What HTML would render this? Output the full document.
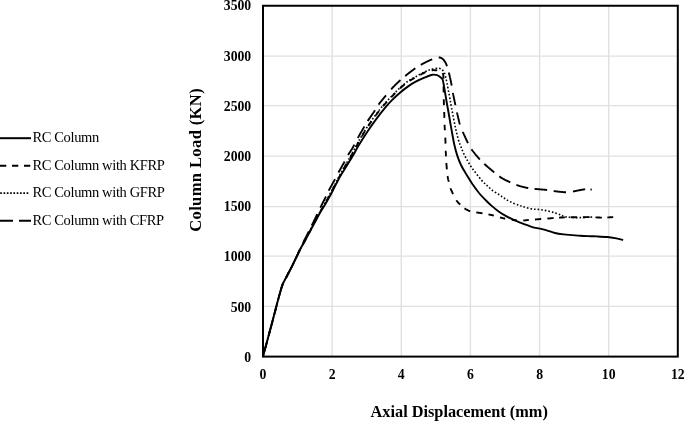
<!DOCTYPE html>
<html><head><meta charset="utf-8"><style>
html,body{margin:0;padding:0;background:#fff;}
body{width:685px;height:421px;overflow:hidden;}
svg{display:block;will-change:transform;}
text{font-family:"Liberation Serif",serif;}
</style></head><body>
<svg width="685" height="421" viewBox="0 0 685 421">
<rect width="685" height="421" fill="#fff"/>
<g stroke="#e0e0e0" stroke-width="1.4"><line x1="332.14" y1="6" x2="332.14" y2="356" /><line x1="401.28" y1="6" x2="401.28" y2="356" /><line x1="470.42" y1="6" x2="470.42" y2="356" /><line x1="539.56" y1="6" x2="539.56" y2="356" /><line x1="608.70" y1="6" x2="608.70" y2="356" /><line x1="263" y1="306.4" x2="677" y2="306.4" /><line x1="263" y1="256.15" x2="677" y2="256.15" /><line x1="263" y1="206.65" x2="677" y2="206.65" /><line x1="263" y1="156.1" x2="677" y2="156.1" /><line x1="263" y1="105.65" x2="677" y2="105.65" /><line x1="263" y1="56.1" x2="677" y2="56.1" /></g>
<g fill="none" stroke="#000" stroke-width="1.9" stroke-linejoin="round">
<path d="M264.02,352.79 L264.08,352.56 L264.15,352.32 L264.21,352.08 L264.28,351.84 L264.34,351.59 L264.41,351.34 L264.48,351.09 L264.55,350.83 L264.62,350.57 L264.69,350.30 L264.76,350.04 L264.83,349.77 L264.91,349.50 L264.98,349.22 L265.05,348.94 L265.13,348.66 L265.21,348.38 L265.28,348.09 L265.36,347.80 L265.44,347.51 L265.52,347.22 L265.60,346.92 L265.68,346.63 L265.76,346.33 L265.84,346.02 L265.92,345.72 L266.00,345.41 L266.08,345.10 L266.17,344.79 L266.25,344.48 L266.34,344.17 L266.42,343.85 L266.51,343.53 L266.59,343.21 L266.68,342.89 L266.76,342.57 L266.85,342.25 L266.94,341.92 L267.02,341.59 L267.11,341.27 L267.20,340.94 L267.29,340.61 M269.10,333.87 L269.19,333.54 L269.28,333.20 L269.37,332.86 L269.46,332.52 L269.55,332.18 L269.64,331.85 L269.73,331.51 L269.82,331.18 L269.91,330.84 L270.00,330.51 L270.09,330.17 L270.18,329.84 L270.27,329.51 L270.35,329.18 L270.44,328.85 L270.53,328.52 L270.62,328.20 L270.71,327.87 L270.79,327.55 L270.88,327.22 L270.97,326.90 L271.05,326.58 L271.14,326.26 L271.22,325.95 L271.31,325.63 L271.39,325.32 L271.47,325.01 L271.56,324.70 L271.64,324.39 L271.72,324.09 L271.80,323.78 L271.88,323.48 L271.96,323.18 L272.04,322.89 L272.12,322.59 L272.20,322.30 L272.28,322.01 L272.36,321.72 M274.14,314.94 L274.22,314.62 L274.31,314.30 L274.39,313.98 L274.47,313.66 L274.56,313.34 L274.64,313.02 L274.72,312.70 L274.81,312.37 L274.89,312.05 L274.97,311.73 L275.06,311.41 L275.14,311.08 L275.23,310.76 L275.31,310.44 L275.39,310.11 L275.48,309.79 L275.56,309.46 L275.65,309.14 L275.73,308.82 L275.81,308.49 L275.90,308.17 L275.98,307.85 L276.06,307.53 L276.15,307.20 L276.23,306.88 L276.32,306.56 L276.40,306.24 L276.48,305.92 L276.57,305.60 L276.65,305.28 L276.73,304.96 L276.81,304.64 L276.90,304.33 L276.98,304.01 L277.06,303.69 L277.14,303.38 L277.23,303.06 L277.31,302.75 M279.06,296.18 L279.13,295.90 L279.21,295.62 L279.28,295.35 L279.36,295.07 L279.43,294.80 L279.51,294.53 L279.58,294.26 L279.65,294.00 L279.73,293.73 L279.80,293.47 L279.87,293.21 L279.94,292.96 L280.02,292.70 L280.09,292.45 L280.16,292.20 L280.23,291.96 L280.30,291.71 L280.37,291.47 L280.43,291.23 L280.50,291.00 L280.57,290.76 L280.64,290.53 L280.70,290.30 L280.77,290.08 L280.83,289.86 L280.90,289.64 L280.96,289.42 L281.03,289.21 L281.09,289.00 L281.15,288.79 L281.22,288.59 L281.28,288.39 L281.34,288.19 L281.40,288.00 L281.57,287.45 L281.74,286.92 L281.91,286.42 L282.07,285.95 L282.23,285.50 L282.38,285.07 L282.53,284.67 L282.67,284.28 L282.81,283.92 M285.92,277.93 L286.04,277.72 L286.15,277.49 L286.28,277.25 L286.40,277.00 L286.55,276.70 L286.69,276.40 L286.84,276.11 L286.99,275.82 L287.14,275.53 L287.28,275.24 L287.43,274.96 L287.58,274.68 L287.73,274.40 L287.87,274.12 L288.02,273.84 L288.17,273.56 L288.32,273.29 L288.46,273.02 L288.61,272.74 L288.76,272.47 L288.91,272.20 L289.05,271.93 L289.20,271.66 L289.35,271.39 L289.50,271.12 L289.64,270.84 L289.79,270.57 L289.94,270.30 L290.08,270.03 L290.23,269.75 L290.38,269.48 L290.52,269.20 L290.67,268.92 L290.82,268.64 L290.96,268.36 L291.11,268.07 L291.25,267.79 L291.40,267.50 L291.54,267.22 L291.68,266.94 L291.82,266.66 M294.70,260.69 L294.83,260.40 L294.97,260.12 L295.10,259.83 L295.23,259.56 L295.36,259.28 L295.49,259.02 L295.61,258.75 L295.73,258.50 L295.85,258.24 L295.97,258.00 L296.08,257.76 L296.19,257.53 L296.30,257.30 L296.48,256.91 L296.65,256.55 L296.81,256.22 L296.96,255.90 L297.10,255.60 L297.23,255.32 L297.36,255.05 L297.48,254.79 L297.59,254.54 L297.71,254.29 L297.82,254.05 L297.93,253.80 L298.05,253.55 L298.16,253.30 L298.29,253.04 L298.41,252.76 L298.55,252.47 L298.69,252.17 L298.84,251.85 L299.00,251.50 L299.11,251.26 L299.22,251.03 L299.32,250.80 L299.43,250.58 L299.53,250.35 L299.64,250.12 L299.74,249.90 L299.84,249.67 L299.95,249.45 L300.05,249.22 L300.16,248.99 M303.00,243.00 L303.10,242.80 L303.20,242.59 L303.31,242.38 L303.41,242.16 L303.52,241.94 L303.63,241.71 L303.75,241.49 L303.86,241.25 L303.98,241.02 L304.10,240.78 L304.22,240.53 L304.35,240.29 L304.47,240.03 L304.60,239.78 L304.73,239.52 L304.86,239.26 L304.99,239.00 L305.12,238.74 L305.26,238.47 L305.39,238.20 L305.53,237.92 L305.67,237.65 L305.81,237.37 L305.95,237.09 L306.09,236.81 L306.24,236.53 L306.38,236.24 L306.52,235.95 L306.67,235.67 L306.81,235.38 L306.96,235.09 L307.11,234.79 L307.26,234.50 L307.40,234.21 L307.55,233.91 L307.70,233.62 L307.85,233.32 L308.00,233.02 L308.15,232.73 L308.30,232.43 L308.45,232.13 L308.60,231.83 L308.75,231.54 M311.74,225.53 L311.87,225.26 L312.00,225.00 L312.14,224.71 L312.28,224.42 L312.42,224.13 L312.56,223.84 L312.70,223.55 L312.85,223.26 L312.99,222.97 L313.13,222.68 L313.27,222.39 L313.41,222.10 L313.55,221.80 L313.69,221.51 L313.83,221.22 L313.97,220.93 L314.11,220.63 L314.25,220.34 L314.39,220.05 L314.53,219.76 L314.67,219.47 L314.81,219.17 L314.95,218.88 L315.08,218.59 L315.22,218.30 L315.36,218.01 L315.50,217.72 L315.63,217.44 L315.77,217.15 L315.90,216.86 L316.04,216.58 L316.18,216.29 L316.31,216.01 L316.44,215.73 L316.58,215.45 L316.71,215.17 L316.84,214.89 L316.97,214.61 L317.10,214.33 L317.23,214.06 M320.25,207.79 L320.42,207.45 L320.58,207.11 L320.75,206.78 L320.91,206.45 L321.08,206.12 L321.24,205.80 L321.40,205.49 L321.55,205.18 L321.71,204.87 L321.86,204.57 L322.01,204.27 L322.16,203.97 L322.31,203.68 L322.46,203.40 L322.60,203.11 L322.75,202.83 L322.89,202.56 L323.03,202.28 L323.17,202.01 L323.30,201.75 L323.44,201.48 L323.57,201.22 L323.70,200.96 L323.84,200.71 L323.96,200.45 L324.09,200.20 L324.22,199.95 L324.34,199.71 L324.47,199.46 L324.59,199.22 L324.71,198.98 L324.83,198.74 L324.95,198.50 L325.07,198.27 L325.18,198.03 L325.30,197.80 L325.48,197.44 L325.64,197.10 L325.79,196.78 L325.94,196.47 M328.72,190.58 L328.84,190.35 L328.96,190.12 L329.09,189.87 L329.22,189.63 L329.36,189.37 L329.49,189.12 L329.64,188.85 L329.78,188.59 L329.93,188.31 L330.08,188.04 L330.23,187.76 L330.39,187.48 L330.54,187.19 L330.70,186.91 L330.86,186.62 L331.02,186.32 L331.19,186.03 L331.35,185.74 L331.51,185.44 L331.68,185.15 L331.84,184.86 L332.00,184.56 L332.17,184.27 L332.33,183.98 L332.49,183.68 L332.65,183.39 L332.81,183.11 L332.97,182.82 L333.13,182.54 L333.28,182.26 L333.43,181.99 L333.58,181.71 L333.73,181.45 L333.88,181.18 L334.02,180.93 L334.16,180.67 L334.30,180.43 L334.43,180.18 L334.56,179.95 L334.68,179.72 L334.80,179.50 L334.99,179.16 M338.50,172.50 L338.62,172.27 L338.75,172.03 L338.89,171.79 L339.03,171.54 L339.17,171.28 L339.31,171.02 L339.46,170.75 L339.61,170.48 L339.77,170.20 L339.92,169.91 L340.08,169.63 L340.24,169.34 L340.41,169.04 L340.57,168.75 L340.74,168.45 L340.91,168.15 L341.07,167.85 L341.24,167.54 L341.41,167.24 L341.58,166.94 L341.75,166.63 L341.92,166.33 L342.09,166.03 L342.25,165.73 L342.42,165.43 L342.58,165.14 L342.75,164.85 L342.91,164.56 L343.07,164.27 L343.22,163.99 L343.38,163.72 L343.53,163.44 L343.67,163.18 L343.82,162.92 L343.96,162.66 L344.10,162.42 L344.23,162.17 L344.36,161.94 L344.48,161.72 L344.60,161.50 M348.08,155.03 L348.23,154.79 L348.38,154.54 L348.53,154.30 L348.69,154.05 L348.85,153.80 L349.01,153.54 L349.17,153.29 L349.34,153.03 L349.51,152.77 L349.68,152.51 L349.85,152.24 L350.02,151.97 L350.19,151.71 L350.37,151.44 L350.54,151.16 L350.72,150.89 L350.90,150.61 L351.07,150.34 L351.25,150.06 L351.43,149.78 L351.60,149.50 L351.78,149.22 L351.95,148.93 L352.12,148.65 L352.30,148.36 L352.47,148.08 L352.63,147.79 L352.80,147.50 L352.94,147.25 L353.09,146.99 L353.23,146.73 L353.37,146.48 L353.51,146.22 L353.65,145.96 L353.79,145.71 L353.93,145.45 L354.06,145.19 L354.20,144.92 L354.34,144.66 M357.84,137.95 L357.98,137.70 L358.12,137.44 L358.27,137.17 L358.42,136.90 L358.57,136.63 L358.73,136.36 L358.88,136.08 L359.04,135.80 L359.20,135.51 L359.36,135.22 L359.53,134.93 L359.69,134.64 L359.86,134.35 L360.03,134.05 L360.19,133.76 L360.36,133.46 L360.53,133.17 L360.70,132.87 L360.87,132.58 L361.04,132.28 L361.21,131.99 L361.37,131.69 L361.54,131.40 L361.71,131.12 L361.87,130.83 L362.03,130.54 L362.20,130.26 L362.36,129.98 L362.51,129.71 L362.67,129.44 L362.83,129.17 L362.98,128.91 L363.13,128.65 L363.27,128.40 L363.41,128.15 L363.55,127.91 L363.69,127.68 L363.82,127.45 L363.95,127.22 L364.08,127.01 L364.20,126.80 L364.42,126.42 M367.70,121.00 L367.84,120.79 L367.98,120.58 L368.13,120.36 L368.28,120.13 L368.44,119.89 L368.60,119.65 L368.77,119.40 L368.95,119.14 L369.12,118.88 L369.30,118.62 L369.49,118.35 L369.68,118.07 L369.87,117.80 L370.06,117.52 L370.25,117.23 L370.45,116.95 L370.65,116.66 L370.84,116.38 L371.04,116.09 L371.24,115.80 L371.44,115.51 L371.64,115.22 L371.84,114.94 L372.04,114.65 L372.24,114.37 L372.43,114.08 L372.62,113.80 L372.81,113.53 L373.00,113.25 L373.19,112.98 L373.37,112.72 L373.55,112.46 L373.72,112.20 L373.89,111.95 L374.06,111.71 L374.22,111.47 L374.37,111.24 L374.52,111.02 L374.66,110.81 L374.80,110.60 L375.03,110.24 M378.54,104.61 L378.69,104.41 L378.84,104.21 L378.99,104.00 L379.15,103.79 L379.31,103.58 L379.47,103.37 L379.64,103.15 L379.81,102.92 L379.99,102.70 L380.16,102.47 L380.34,102.24 L380.52,102.01 L380.71,101.77 L380.90,101.53 L381.08,101.30 L381.28,101.05 L381.47,100.81 L381.67,100.57 L381.86,100.32 L382.06,100.07 L382.26,99.82 L382.46,99.57 L382.67,99.32 L382.87,99.07 L383.08,98.82 L383.28,98.56 L383.49,98.31 L383.70,98.06 L383.91,97.80 L384.12,97.55 L384.33,97.30 L384.54,97.04 L384.75,96.79 L384.96,96.54 L385.17,96.29 L385.37,96.04 L385.58,95.79 L385.79,95.55 L386.00,95.30 M391.17,89.29 L391.38,89.06 L391.59,88.82 L391.80,88.59 L392.01,88.36 L392.22,88.13 L392.43,87.90 L392.64,87.67 L392.85,87.44 L393.06,87.21 L393.28,86.98 L393.49,86.76 L393.71,86.53 L393.92,86.31 L394.14,86.08 L394.35,85.86 L394.57,85.64 L394.78,85.42 L395.00,85.20 L395.22,84.98 L395.44,84.76 L395.66,84.55 L395.88,84.33 L396.10,84.11 L396.32,83.90 L396.54,83.68 L396.77,83.47 L396.99,83.25 L397.22,83.04 L397.45,82.82 L397.67,82.61 L397.90,82.40 L398.13,82.19 L398.36,81.97 L398.59,81.76 L398.82,81.55 L399.05,81.34 L399.28,81.13 L399.51,80.92 L399.74,80.71 L399.97,80.51 L400.21,80.30 L400.44,80.09 M405.10,76.10 L405.34,75.90 L405.59,75.70 L405.84,75.49 L406.09,75.29 L406.34,75.08 L406.59,74.88 L406.85,74.67 L407.11,74.47 L407.36,74.26 L407.62,74.06 L407.88,73.85 L408.14,73.65 L408.41,73.44 L408.67,73.24 L408.93,73.04 L409.19,72.84 L409.45,72.64 L409.71,72.44 L409.97,72.24 L410.23,72.04 L410.49,71.84 L410.74,71.65 L411.00,71.46 L411.25,71.27 L411.50,71.08 L411.75,70.89 L412.00,70.71 L412.24,70.53 L412.49,70.35 L412.73,70.17 L412.96,70.00 L413.19,69.82 L413.42,69.66 L413.65,69.49 L413.87,69.33 L414.09,69.17 L414.30,69.02 L414.51,68.87 L414.72,68.72 L414.92,68.58 L415.11,68.44 L415.30,68.30 M420.80,64.90 L421.13,64.70 L421.44,64.52 L421.73,64.35 L422.01,64.19 L422.27,64.04 L422.53,63.89 L422.79,63.74 L423.06,63.60 L423.33,63.45 L423.62,63.30 L423.93,63.14 L424.25,62.97 L424.61,62.79 L425.00,62.60 L425.22,62.49 L425.46,62.37 L425.70,62.26 L425.95,62.13 L426.21,62.01 L426.47,61.88 L426.74,61.74 L427.02,61.61 L427.30,61.47 L427.58,61.34 L427.87,61.20 L428.16,61.06 L428.46,60.92 L428.75,60.78 L429.05,60.64 L429.35,60.51 L429.64,60.37 L429.94,60.24 L430.23,60.11 L430.52,59.98 L430.81,59.86 L431.10,59.74 L431.38,59.62 L431.66,59.51 L431.93,59.40 L432.20,59.30 M438.70,57.50 L439.11,57.49 L439.50,57.51 L439.86,57.56 L440.20,57.62 L440.53,57.71 L440.83,57.82 L441.12,57.95 L441.41,58.09 L441.68,58.25 L441.96,58.42 L442.23,58.60 L442.50,58.80 L442.73,58.98 L442.96,59.18 L443.19,59.40 L443.40,59.63 L443.62,59.87 L443.83,60.12 L444.03,60.38 L444.23,60.65 L444.42,60.92 L444.61,61.20 L444.79,61.48 L444.97,61.75 L445.14,62.03 L445.30,62.30 L445.46,62.57 L445.60,62.83 L445.74,63.08 L445.86,63.34 L445.98,63.60 L446.10,63.86 L446.21,64.13 L446.32,64.41 L446.43,64.69 L446.54,64.98 L446.65,65.29 L446.76,65.61 L446.88,65.95 L447.00,66.30 M448.80,72.50 L448.88,72.79 L448.95,73.09 L449.03,73.39 L449.11,73.70 L449.19,74.02 L449.27,74.34 L449.35,74.66 L449.43,74.99 L449.51,75.31 L449.59,75.64 L449.67,75.98 L449.75,76.31 L449.83,76.64 L449.91,76.97 L449.98,77.29 L450.06,77.61 L450.13,77.93 L450.21,78.25 L450.28,78.56 L450.35,78.86 L450.41,79.16 L450.48,79.45 L450.54,79.73 L450.60,80.00 L450.68,80.39 L450.76,80.75 L450.83,81.10 L450.90,81.43 L450.96,81.74 L451.02,82.05 L451.08,82.35 L451.13,82.64 L451.18,82.94 L451.24,83.24 L451.29,83.55 L451.35,83.86 L451.41,84.20 L451.47,84.54 L451.53,84.91 L451.60,85.30 L451.65,85.57 M452.90,92.90 L452.95,93.15 L453.00,93.41 L453.05,93.68 L453.11,93.96 L453.16,94.25 L453.22,94.54 L453.28,94.84 L453.34,95.14 L453.40,95.45 L453.47,95.77 L453.53,96.09 L453.60,96.41 L453.67,96.74 L453.73,97.07 L453.80,97.41 L453.87,97.74 L453.94,98.08 L454.01,98.42 L454.08,98.76 L454.15,99.09 L454.22,99.43 L454.29,99.77 L454.36,100.10 L454.43,100.44 L454.50,100.77 L454.57,101.10 L454.63,101.42 L454.70,101.74 L454.77,102.06 L454.83,102.37 L454.90,102.68 L454.96,102.98 L455.02,103.27 L455.08,103.56 L455.14,103.84 L455.19,104.11 L455.25,104.37 L455.30,104.62 L455.35,104.87 L455.40,105.10 M456.98,112.42 L457.04,112.70 L457.11,112.97 L457.17,113.26 L457.24,113.55 L457.30,113.85 L457.37,114.16 L457.44,114.47 L457.52,114.79 L457.59,115.11 L457.66,115.43 L457.74,115.76 L457.81,116.09 L457.89,116.42 L457.97,116.76 L458.04,117.10 L458.12,117.44 L458.20,117.78 L458.28,118.11 L458.36,118.45 L458.44,118.79 L458.52,119.13 L458.60,119.47 L458.68,119.80 L458.76,120.13 L458.84,120.46 L458.92,120.79 L459.00,121.11 L459.08,121.43 L459.16,121.74 L459.23,122.05 L459.31,122.35 L459.39,122.64 L459.46,122.93 L459.54,123.22 L459.61,123.49 L459.69,123.76 L459.76,124.01 L459.83,124.26 L459.90,124.50 M462.80,131.80 L462.90,132.04 L463.01,132.28 L463.12,132.54 L463.23,132.80 L463.35,133.07 L463.47,133.34 L463.59,133.62 L463.72,133.90 L463.85,134.19 L463.98,134.49 L464.11,134.78 L464.24,135.09 L464.38,135.39 L464.52,135.70 L464.66,136.01 L464.80,136.32 L464.94,136.63 L465.08,136.95 L465.22,137.26 L465.36,137.58 L465.51,137.89 L465.65,138.20 L465.79,138.51 L465.93,138.82 L466.07,139.13 L466.21,139.44 L466.35,139.74 L466.49,140.04 L466.63,140.34 L466.77,140.63 L466.90,140.91 L467.03,141.19 L467.16,141.47 L467.29,141.74 L467.42,142.00 L467.54,142.26 L467.66,142.50 L467.78,142.74 L467.89,142.98 L468.00,143.20 M471.50,149.30 L471.64,149.49 L471.79,149.69 L471.94,149.90 L472.10,150.11 L472.27,150.33 L472.44,150.56 L472.62,150.78 L472.80,151.02 L472.98,151.25 L473.17,151.49 L473.36,151.74 L473.56,151.99 L473.76,152.24 L473.96,152.49 L474.16,152.74 L474.37,153.00 L474.58,153.26 L474.79,153.52 L475.00,153.78 L475.22,154.04 L475.43,154.30 L475.65,154.56 L475.86,154.82 L476.08,155.08 L476.29,155.34 L476.50,155.59 L476.72,155.85 L476.93,156.10 L477.14,156.35 L477.35,156.60 L477.55,156.84 L477.76,157.08 L477.96,157.31 L478.16,157.55 L478.35,157.77 L478.54,157.99 L478.73,158.21 L478.91,158.42 L479.09,158.63 L479.27,158.82 L479.44,159.02 L479.60,159.20 L479.88,159.51 M484.27,163.84 L484.50,164.05 L484.75,164.27 L485.00,164.50 L485.21,164.69 L485.42,164.88 L485.64,165.08 L485.86,165.27 L486.08,165.47 L486.31,165.67 L486.54,165.87 L486.77,166.07 L487.01,166.28 L487.24,166.48 L487.48,166.69 L487.72,166.89 L487.96,167.10 L488.21,167.31 L488.45,167.51 L488.69,167.72 L488.94,167.93 L489.18,168.13 L489.42,168.34 L489.67,168.54 L489.91,168.74 L490.15,168.95 L490.39,169.15 L490.63,169.35 L490.86,169.54 L491.09,169.74 L491.33,169.93 L491.55,170.12 L491.78,170.31 L492.00,170.50 L492.25,170.71 L492.50,170.93 L492.75,171.14 L493.00,171.35 L493.25,171.56 L493.49,171.77 L493.74,171.97 L493.98,172.18 L494.22,172.39 M499.28,176.37 L499.54,176.55 L499.81,176.73 L500.07,176.91 L500.33,177.08 L500.59,177.25 L500.85,177.42 L501.11,177.59 L501.37,177.75 L501.63,177.91 L501.89,178.07 L502.15,178.23 L502.41,178.39 L502.68,178.54 L502.94,178.69 L503.20,178.85 L503.47,179.00 L503.73,179.15 L504.00,179.30 L504.27,179.45 L504.54,179.60 L504.82,179.74 L505.09,179.89 L505.37,180.03 L505.65,180.17 L505.93,180.31 L506.21,180.44 L506.49,180.58 L506.77,180.71 L507.05,180.84 L507.33,180.97 L507.61,181.10 L507.88,181.23 L508.16,181.36 L508.43,181.48 L508.70,181.60 L508.97,181.73 L509.23,181.85 L509.49,181.97 L509.75,182.08 L510.00,182.20 L510.30,182.34 M516.39,184.92 L516.67,185.02 L516.95,185.12 L517.24,185.22 L517.53,185.32 L517.83,185.43 L518.12,185.52 L518.42,185.62 L518.73,185.72 L519.04,185.82 L519.35,185.92 L519.67,186.02 L519.99,186.11 L520.32,186.21 L520.66,186.30 L521.00,186.40 L521.27,186.47 L521.55,186.55 L521.83,186.62 L522.12,186.70 L522.41,186.78 L522.71,186.85 L523.01,186.93 L523.32,187.00 L523.63,187.08 L523.94,187.16 L524.26,187.23 L524.57,187.31 L524.89,187.38 L525.20,187.45 L525.52,187.53 L525.83,187.60 L526.15,187.67 L526.46,187.73 L526.77,187.80 L527.07,187.86 L527.37,187.93 L527.67,187.99 L527.96,188.04 L528.25,188.10 M534.55,188.86 L535.00,188.90 L535.24,188.92 L535.49,188.95 L535.75,188.97 L536.02,188.99 L536.30,189.02 L536.59,189.04 L536.88,189.07 L537.19,189.10 L537.50,189.12 L537.81,189.15 L538.14,189.18 L538.47,189.20 L538.80,189.23 L539.14,189.26 L539.48,189.29 L539.82,189.32 L540.17,189.34 L540.51,189.37 L540.86,189.40 L541.21,189.43 L541.56,189.46 L541.91,189.49 L542.26,189.52 L542.60,189.55 L542.95,189.58 L543.29,189.61 L543.62,189.64 L543.96,189.66 L544.28,189.69 L544.60,189.72 L544.92,189.75 L545.23,189.78 L545.53,189.81 L545.83,189.84 L546.11,189.86 L546.39,189.89 L546.66,189.92 L546.92,189.95 L547.16,189.97 M553.69,191.04 L553.98,191.08 L554.27,191.12 L554.56,191.16 L554.86,191.20 L555.16,191.24 L555.46,191.28 L555.76,191.32 L556.06,191.36 L556.36,191.39 L556.66,191.43 L556.97,191.47 L557.27,191.50 L557.57,191.54 L557.88,191.57 L558.18,191.61 L558.49,191.64 L558.79,191.68 L559.10,191.71 L559.40,191.74 L559.70,191.77 L560.00,191.80 L560.30,191.83 L560.60,191.86 L560.91,191.89 L561.21,191.92 L561.52,191.96 L561.83,191.99 L562.14,192.02 L562.45,192.05 L562.75,192.08 L563.06,192.11 L563.37,192.14 L563.67,192.16 L563.98,192.19 L564.28,192.21 L564.58,192.23 L564.88,192.25 L565.17,192.27 L565.47,192.28 L565.76,192.29 L566.04,192.30 M572.95,191.55 L573.23,191.50 L573.52,191.44 L573.80,191.38 L574.08,191.32 L574.37,191.26 L574.66,191.20 L574.94,191.14 L575.23,191.07 L575.53,191.01 L575.82,190.94 L576.12,190.88 L576.42,190.81 L576.73,190.75 L577.04,190.69 L577.36,190.62 L577.68,190.56 L578.00,190.50 L578.28,190.45 L578.56,190.40 L578.84,190.34 L579.13,190.28 L579.43,190.22 L579.72,190.16 L580.02,190.10 L580.33,190.04 L580.63,189.98 L580.94,189.92 L581.25,189.86 L581.56,189.81 L581.87,189.75 L582.18,189.69 L582.49,189.64 L582.80,189.59 L583.10,189.54 L583.41,189.49 L583.72,189.45 L584.02,189.41 L584.32,189.38 L584.62,189.35 L584.91,189.32 L585.20,189.30 M590.49,189.50 L590.76,189.52 L591.01,189.54 L591.24,189.56 L591.45,189.58 L591.64,189.59 L591.80,189.60 "/>
<path d="M263.00,356.60 C264.53,350.88 269.13,333.73 272.20,322.30 C275.27,310.87 279.03,295.55 281.40,288.00 C283.77,280.45 284.73,280.42 286.40,277.00 C288.07,273.58 289.75,270.78 291.40,267.50 C293.05,264.22 294.77,260.47 296.30,257.30 C297.83,254.13 299.05,251.55 300.60,248.50 C302.15,245.45 303.65,242.72 305.60,239.00 C307.55,235.28 309.92,230.73 312.30,226.20 C314.68,221.67 317.82,215.58 319.90,211.80 C321.98,208.02 322.73,207.22 324.80,203.50 C326.87,199.78 330.00,193.83 332.30,189.50 C334.60,185.17 336.55,181.33 338.60,177.50 C340.65,173.67 342.28,170.58 344.60,166.50 C346.92,162.42 350.17,157.18 352.50,153.00 C354.83,148.82 356.42,145.32 358.60,141.40 C360.78,137.48 363.25,133.25 365.60,129.50 C367.95,125.75 370.33,122.23 372.70,118.90 C375.07,115.57 377.78,112.07 379.80,109.50 C381.82,106.93 382.77,105.78 384.80,103.50 C386.83,101.22 389.47,98.42 392.00,95.80 C394.53,93.18 397.37,90.20 400.00,87.80 C402.63,85.40 405.18,83.25 407.80,81.40 C410.42,79.55 412.83,78.30 415.70,76.70 C418.57,75.10 422.88,72.87 425.00,71.80 C427.12,70.73 427.13,70.75 428.40,70.30 C429.67,69.85 430.88,69.45 432.60,69.10 C434.32,68.75 437.12,68.07 438.70,68.20 C440.28,68.33 441.17,69.18 442.10,69.90 C443.03,70.62 443.73,71.40 444.30,72.50 C444.87,73.60 445.05,74.72 445.50,76.50 C445.95,78.28 446.37,80.08 447.00,83.20 C447.63,86.32 448.53,91.05 449.30,95.20 C450.07,99.35 450.53,102.47 451.60,108.10 C452.67,113.73 454.55,123.68 455.70,129.00 C456.85,134.32 457.62,137.02 458.50,140.00 C459.38,142.98 460.10,144.57 461.00,146.90 C461.90,149.23 462.78,151.63 463.90,154.00 C465.02,156.37 466.43,158.88 467.70,161.10 C468.97,163.32 470.08,165.23 471.50,167.30 C472.92,169.37 474.47,171.28 476.20,173.50 C477.93,175.72 480.18,178.68 481.90,180.60 C483.62,182.52 484.83,183.43 486.50,185.00 C488.17,186.57 489.82,188.38 491.90,190.00 C493.98,191.62 496.87,193.28 499.00,194.70 C501.13,196.12 502.65,197.23 504.70,198.50 C506.75,199.77 508.92,201.18 511.30,202.30 C513.68,203.42 517.00,204.45 519.00,205.20 C521.00,205.95 521.20,206.18 523.30,206.80 C525.40,207.42 528.85,208.43 531.60,208.90 C534.35,209.37 537.05,209.25 539.80,209.60 C542.55,209.95 545.48,210.43 548.10,211.00 C550.72,211.57 553.35,212.32 555.50,213.00 C557.65,213.68 559.50,214.50 561.00,215.10 C562.50,215.70 563.00,216.23 564.50,216.60 C566.00,216.97 567.42,217.13 570.00,217.30 C572.58,217.47 576.00,217.67 580.00,217.60 C584.00,217.53 591.67,217.02 594.00,216.90" stroke-width="1.6" stroke-dasharray="1.6 2.0"/>
<path d="M263.00,356.60 L263.04,356.45 L263.08,356.30 L263.12,356.14 L263.17,355.98 L263.21,355.81 L263.26,355.64 L263.30,355.47 L263.35,355.28 L263.40,355.10 L263.45,354.91 L263.51,354.72 L263.56,354.52 L263.61,354.32 L263.67,354.11 M265.36,347.80 L265.44,347.51 L265.52,347.22 L265.60,346.92 L265.68,346.63 L265.76,346.33 L265.84,346.02 L265.92,345.72 L266.00,345.41 L266.08,345.10 L266.17,344.79 L266.25,344.48 L266.34,344.17 L266.42,343.85 L266.51,343.53 L266.59,343.21 L266.68,342.89 L266.76,342.57 L266.85,342.25 M268.55,335.91 L268.64,335.57 L268.73,335.23 L268.82,334.89 L268.91,334.55 L269.00,334.21 L269.10,333.87 L269.19,333.54 L269.28,333.20 L269.37,332.86 L269.46,332.52 L269.55,332.18 L269.64,331.85 L269.73,331.51 L269.82,331.18 L269.91,330.84 L270.00,330.51 M271.72,324.09 L271.80,323.78 L271.88,323.48 L271.96,323.18 L272.04,322.89 L272.12,322.59 L272.20,322.30 L272.28,322.01 L272.36,321.72 L272.44,321.42 L272.51,321.12 L272.59,320.83 L272.67,320.53 L272.75,320.23 L272.83,319.92 L272.91,319.62 L272.99,319.32 L273.07,319.01 L273.16,318.70 L273.24,318.40 M274.89,312.05 L274.97,311.73 L275.06,311.41 L275.14,311.08 L275.23,310.76 L275.31,310.44 L275.39,310.11 L275.48,309.79 L275.56,309.46 L275.65,309.14 L275.73,308.82 L275.81,308.49 L275.90,308.17 L275.98,307.85 L276.06,307.53 L276.15,307.20 L276.23,306.88 L276.32,306.56 M277.96,300.28 L278.04,299.98 L278.12,299.68 L278.20,299.38 L278.28,299.08 L278.36,298.78 L278.44,298.49 L278.51,298.19 L278.59,297.90 L278.67,297.61 L278.75,297.32 L278.83,297.03 L278.90,296.75 L278.98,296.46 L279.06,296.18 L279.13,295.90 L279.21,295.62 L279.28,295.35 L279.36,295.07 L279.43,294.80 L279.51,294.53 M281.28,288.39 L281.34,288.19 L281.40,288.00 L281.57,287.45 L281.74,286.92 L281.91,286.42 L282.07,285.95 L282.23,285.50 L282.38,285.07 L282.53,284.67 L282.67,284.28 L282.81,283.92 L282.95,283.58 L283.08,283.25 L283.21,282.94 M286.28,277.25 L286.40,277.00 L286.55,276.70 L286.69,276.40 L286.84,276.11 L286.99,275.82 L287.14,275.53 L287.28,275.24 L287.43,274.96 L287.58,274.68 L287.73,274.40 L287.87,274.12 L288.02,273.84 L288.17,273.56 L288.32,273.29 L288.46,273.02 L288.61,272.74 L288.76,272.47 L288.91,272.20 M292.09,266.11 L292.23,265.82 L292.37,265.54 L292.51,265.25 L292.65,264.97 L292.79,264.68 L292.92,264.39 L293.06,264.10 L293.20,263.81 L293.34,263.52 L293.48,263.23 L293.62,262.94 L293.76,262.65 L293.89,262.36 L294.03,262.07 L294.17,261.78 L294.31,261.49 L294.44,261.20 M297.40,255.00 L297.53,254.73 L297.66,254.45 L297.80,254.18 L297.93,253.90 L298.06,253.63 L298.19,253.36 L298.31,253.09 L298.44,252.82 L298.57,252.55 L298.70,252.28 L298.83,252.01 L298.96,251.75 L299.09,251.48 L299.22,251.21 L299.36,250.94 L299.49,250.67 L299.62,250.41 L299.76,250.14 M302.95,244.30 L303.09,244.05 L303.24,243.80 L303.39,243.55 L303.53,243.29 L303.68,243.03 L303.83,242.77 L303.98,242.51 L304.14,242.24 L304.29,241.96 L304.45,241.69 L304.61,241.41 L304.77,241.12 L304.93,240.83 L305.09,240.53 L305.26,240.23 L305.43,239.92 L305.60,239.60 L305.72,239.37 L305.85,239.14 M308.79,233.54 L308.93,233.27 L309.07,233.00 L309.21,232.72 L309.36,232.44 L309.50,232.17 L309.65,231.89 L309.79,231.61 L309.94,231.33 L310.08,231.05 L310.23,230.77 L310.38,230.49 L310.52,230.20 L310.67,229.92 L310.82,229.64 L310.96,229.35 L311.11,229.07 L311.26,228.79 L311.41,228.50 M314.57,222.46 L314.72,222.18 L314.87,221.89 L315.02,221.61 L315.17,221.32 L315.31,221.03 L315.46,220.75 L315.61,220.46 L315.76,220.18 L315.91,219.89 L316.06,219.60 L316.21,219.32 L316.36,219.03 L316.51,218.75 L316.66,218.47 L316.81,218.19 L316.95,217.91 L317.10,217.63 L317.24,217.35 M320.28,211.72 L320.45,211.41 L320.62,211.11 L320.79,210.82 L320.95,210.55 L321.10,210.28 L321.25,210.03 L321.40,209.78 L321.54,209.55 L321.68,209.32 L321.82,209.09 L321.96,208.87 L322.09,208.65 L322.22,208.44 L322.36,208.22 L322.49,208.01 L322.62,207.80 L322.76,207.58 L322.89,207.36 L323.03,207.14 L323.17,206.91 L323.31,206.68 M326.52,200.95 L326.66,200.69 L326.81,200.42 L326.96,200.15 L327.10,199.87 L327.25,199.60 L327.40,199.32 L327.55,199.04 L327.70,198.76 L327.85,198.47 L328.00,198.19 L328.16,197.91 L328.31,197.62 L328.46,197.33 L328.62,197.04 L328.77,196.75 L328.92,196.47 L329.08,196.18 L329.23,195.89 M332.30,190.10 L332.46,189.81 L332.61,189.51 L332.77,189.22 L332.92,188.93 L333.07,188.64 L333.22,188.35 L333.37,188.07 L333.52,187.78 L333.67,187.50 L333.82,187.22 L333.97,186.94 L334.11,186.66 L334.26,186.38 L334.40,186.10 L334.55,185.82 L334.69,185.55 L334.84,185.27 L334.98,185.00 M338.04,179.15 L338.18,178.88 L338.32,178.62 L338.46,178.36 L338.60,178.10 L338.75,177.81 L338.90,177.53 L339.05,177.25 L339.20,176.97 L339.35,176.69 L339.50,176.42 L339.64,176.15 L339.79,175.88 L339.93,175.61 L340.08,175.34 L340.22,175.07 L340.36,174.81 L340.50,174.54 L340.65,174.28 M343.92,168.30 L344.09,168.00 L344.26,167.71 L344.43,167.40 L344.60,167.10 L344.73,166.86 L344.87,166.62 L345.01,166.38 L345.15,166.14 L345.29,165.89 L345.44,165.64 L345.58,165.39 L345.73,165.14 L345.88,164.89 L346.03,164.63 L346.18,164.38 L346.33,164.12 L346.48,163.86 L346.64,163.59 M349.98,157.96 L350.14,157.70 L350.30,157.43 L350.45,157.16 L350.61,156.90 L350.76,156.64 L350.91,156.37 L351.07,156.11 L351.22,155.86 L351.36,155.60 L351.51,155.34 L351.66,155.09 L351.80,154.83 L351.95,154.58 L352.09,154.33 L352.23,154.09 L352.36,153.84 L352.50,153.60 L352.67,153.30 L352.83,153.01 M355.88,147.16 L356.02,146.89 L356.15,146.62 L356.29,146.36 L356.43,146.09 L356.57,145.82 L356.71,145.55 L356.84,145.28 L356.98,145.01 L357.12,144.74 L357.27,144.47 L357.41,144.20 L357.55,143.93 L357.70,143.66 L357.84,143.38 L357.99,143.11 L358.14,142.83 L358.29,142.56 L358.45,142.28 L358.60,142.00 M361.88,136.25 L362.04,135.99 L362.19,135.72 L362.35,135.46 L362.50,135.20 L362.66,134.94 L362.81,134.68 L362.97,134.42 L363.12,134.15 L363.28,133.89 L363.43,133.64 L363.59,133.38 L363.74,133.12 L363.90,132.86 L364.05,132.61 L364.21,132.35 L364.37,132.10 L364.52,131.84 L364.68,131.59 L364.83,131.34 M368.30,125.91 L368.47,125.66 L368.64,125.40 L368.81,125.15 L368.97,124.90 L369.14,124.64 L369.31,124.39 L369.48,124.14 L369.65,123.89 L369.82,123.64 L369.99,123.39 L370.16,123.14 L370.33,122.90 L370.50,122.65 L370.67,122.40 L370.84,122.16 L371.01,121.91 L371.18,121.67 L371.35,121.43 L371.52,121.18 M375.41,115.80 L375.60,115.54 L375.80,115.28 L375.99,115.02 L376.19,114.77 L376.38,114.51 L376.57,114.26 L376.77,114.01 L376.96,113.76 L377.15,113.51 L377.34,113.26 L377.53,113.02 L377.71,112.78 L377.90,112.54 L378.08,112.30 L378.26,112.07 L378.44,111.83 L378.62,111.61 L378.80,111.38 L378.97,111.16 M382.99,106.17 L383.17,105.96 L383.35,105.75 L383.54,105.53 L383.73,105.31 L383.93,105.08 L384.14,104.85 L384.35,104.61 L384.57,104.36 L384.80,104.10 L384.98,103.90 L385.16,103.69 L385.35,103.48 L385.54,103.27 L385.73,103.06 L385.93,102.85 L386.13,102.63 L386.33,102.41 L386.53,102.19 L386.73,101.97 L386.94,101.75 M391.33,97.10 L391.55,96.86 L391.78,96.63 L392.00,96.40 L392.21,96.18 L392.42,95.96 L392.64,95.74 L392.85,95.52 L393.07,95.29 L393.29,95.07 L393.51,94.84 L393.73,94.61 L393.95,94.38 L394.17,94.15 L394.39,93.93 L394.61,93.70 L394.84,93.47 L395.06,93.24 L395.29,93.01 M400.00,88.40 L400.25,88.18 L400.49,87.95 L400.74,87.73 L400.98,87.51 L401.23,87.29 L401.47,87.08 L401.72,86.86 L401.96,86.65 L402.21,86.44 L402.45,86.22 L402.69,86.02 L402.94,85.81 L403.18,85.60 L403.42,85.40 L403.66,85.19 L403.91,84.99 L404.15,84.79 L404.39,84.60 M409.61,80.79 L409.86,80.63 L410.12,80.47 L410.37,80.31 L410.63,80.16 L410.89,80.01 L411.14,79.86 L411.40,79.71 L411.66,79.56 L411.91,79.41 L412.17,79.26 L412.43,79.11 L412.70,78.97 L412.96,78.82 L413.22,78.67 L413.49,78.52 L413.76,78.37 L414.03,78.23 L414.30,78.08 L414.58,77.92 M420.33,74.80 L420.63,74.64 L420.93,74.49 L421.23,74.33 L421.52,74.18 L421.81,74.03 L422.10,73.88 L422.38,73.73 L422.65,73.59 L422.92,73.45 L423.19,73.32 L423.44,73.18 L423.69,73.06 L423.94,72.94 L424.17,72.82 L424.39,72.70 L424.60,72.60 L424.81,72.50 L425.00,72.40 L425.49,72.16 M431.66,70.29 L431.97,70.26 L432.29,70.22 L432.60,70.20 L432.92,70.18 L433.25,70.17 L433.58,70.17 L433.92,70.17 L434.27,70.17 L434.61,70.18 L434.96,70.20 L435.30,70.22 L435.64,70.24 L435.97,70.27 L436.29,70.30 L436.61,70.33 L436.91,70.36 L437.20,70.40 M442.60,73.00 L442.71,73.23 L442.82,73.44 L442.91,73.63 L442.99,73.84 L443.06,74.05 L443.12,74.30 L443.18,74.58 L443.23,74.92 L443.27,75.32 L443.32,75.79 L443.36,76.34 L443.40,77.00 L443.41,77.21 L443.42,77.43 L443.43,77.66 L443.44,77.90 L443.45,78.15 L443.46,78.41 L443.47,78.68 M443.56,86.58 L443.57,86.92 L443.57,87.25 L443.57,87.58 L443.57,87.90 L443.58,88.22 L443.58,88.53 L443.58,88.84 L443.59,89.14 L443.59,89.44 L443.60,89.72 L443.60,90.00 L443.61,90.36 L443.61,90.70 L443.62,91.05 L443.62,91.38 L443.63,91.71 L443.63,92.03 L443.64,92.35 M443.78,99.33 L443.79,99.66 L443.80,100.00 L443.81,100.28 L443.82,100.55 L443.82,100.83 L443.83,101.11 L443.84,101.38 L443.85,101.66 L443.86,101.94 L443.87,102.22 L443.87,102.51 L443.88,102.79 L443.89,103.07 L443.90,103.36 L443.91,103.64 L443.92,103.93 L443.93,104.22 L443.94,104.51 L443.95,104.80 L443.96,105.10 M444.20,112.00 L444.21,112.27 L444.22,112.55 L444.23,112.82 L444.24,113.10 L444.25,113.39 L444.25,113.67 L444.26,113.96 L444.27,114.25 L444.28,114.55 L444.29,114.84 L444.30,115.14 L444.31,115.44 L444.32,115.74 L444.33,116.04 L444.34,116.34 L444.35,116.65 L444.35,116.95 L444.36,117.26 L444.37,117.57 L444.38,117.88 M444.61,124.68 L444.62,124.98 L444.63,125.27 L444.64,125.57 L444.65,125.86 L444.66,126.15 L444.68,126.43 L444.69,126.72 L444.70,127.00 L444.71,127.33 L444.73,127.66 L444.74,127.99 L444.76,128.32 L444.78,128.65 L444.79,128.97 L444.81,129.29 L444.83,129.62 L444.84,129.94 L444.86,130.26 M445.28,137.62 L445.30,137.91 L445.31,138.21 L445.33,138.51 L445.34,138.81 L445.36,139.11 L445.37,139.40 L445.39,139.70 L445.40,140.00 L445.41,140.31 L445.43,140.62 L445.44,140.93 L445.45,141.24 L445.46,141.54 L445.47,141.84 L445.48,142.15 L445.49,142.45 L445.50,142.75 L445.51,143.05 L445.52,143.34 L445.53,143.64 M445.75,150.76 L445.76,151.07 L445.77,151.38 L445.79,151.69 L445.80,152.00 L445.81,152.30 L445.83,152.60 L445.84,152.90 L445.85,153.21 L445.87,153.51 L445.88,153.82 L445.89,154.13 L445.91,154.44 L445.92,154.76 L445.94,155.07 L445.95,155.38 L445.97,155.70 L445.98,156.02 L446.00,156.33 M446.36,162.94 L446.38,163.24 L446.40,163.54 L446.42,163.84 L446.44,164.13 L446.46,164.42 L446.48,164.71 L446.50,165.00 L446.53,165.33 L446.55,165.67 L446.58,166.00 L446.60,166.34 L446.63,166.67 L446.66,167.01 L446.69,167.34 L446.72,167.68 L446.74,168.01 L446.77,168.35 L446.80,168.68 L446.83,169.01 L446.86,169.34 M447.60,176.00 L447.66,176.45 L447.73,176.87 L447.79,177.27 L447.86,177.64 L447.92,177.99 L447.99,178.32 L448.05,178.64 L448.12,178.94 L448.18,179.23 L448.25,179.51 L448.31,179.79 L448.38,180.07 L448.45,180.34 L448.52,180.62 L448.59,180.90 L448.66,181.19 L448.73,181.49 L448.80,181.80 M450.49,188.28 L450.59,188.55 L450.70,188.82 L450.81,189.10 L450.92,189.37 L451.04,189.65 L451.16,189.93 L451.28,190.21 L451.41,190.49 L451.53,190.77 L451.66,191.05 L451.79,191.33 L451.92,191.61 L452.05,191.90 L452.18,192.18 L452.31,192.46 L452.44,192.74 L452.58,193.01 L452.71,193.29 L452.84,193.56 L452.97,193.83 L453.10,194.10 M456.40,200.30 L456.60,200.59 L456.80,200.86 L457.00,201.13 L457.20,201.39 L457.41,201.65 L457.61,201.89 L457.82,202.13 L458.03,202.37 L458.24,202.60 L458.45,202.83 L458.66,203.05 L458.88,203.27 L459.09,203.49 L459.31,203.71 L459.53,203.93 L459.75,204.15 L459.98,204.38 L460.20,204.60 M464.50,208.40 L464.75,208.56 L465.01,208.73 L465.28,208.89 L465.54,209.05 L465.82,209.21 L466.09,209.36 L466.38,209.52 L466.66,209.67 L466.95,209.82 L467.24,209.96 L467.53,210.10 L467.82,210.24 L468.12,210.38 L468.42,210.51 L468.71,210.64 L469.01,210.76 L469.31,210.88 L469.61,210.99 L469.90,211.10 L470.20,211.20 M476.30,212.40 L476.61,212.45 L476.92,212.50 L477.23,212.55 L477.54,212.60 L477.85,212.64 L478.16,212.69 L478.47,212.73 L478.78,212.77 L479.09,212.81 L479.41,212.86 L479.72,212.90 L480.03,212.94 L480.34,212.98 L480.65,213.02 L480.96,213.07 L481.27,213.11 L481.58,213.16 L481.89,213.20 L482.19,213.25 L482.50,213.30 M488.50,214.40 L488.81,214.46 L489.11,214.53 L489.41,214.59 L489.71,214.65 L490.00,214.71 L490.29,214.77 L490.57,214.83 L490.85,214.89 L491.14,214.96 L491.42,215.02 L491.71,215.09 L491.99,215.15 L492.28,215.22 L492.58,215.29 L492.87,215.36 L493.18,215.44 L493.48,215.52 L493.80,215.60 M500.00,217.40 L500.35,217.50 L500.69,217.59 L501.02,217.68 L501.34,217.76 L501.65,217.85 L501.96,217.93 L502.27,218.01 L502.57,218.09 L502.88,218.17 L503.19,218.25 L503.51,218.33 L503.83,218.40 L504.15,218.48 L504.49,218.55 L504.84,218.63 L505.20,218.70 M511.80,219.80 L512.16,219.85 L512.51,219.90 L512.85,219.95 L513.17,220.00 L513.49,220.04 L513.80,220.08 L514.11,220.12 L514.42,220.16 L514.72,220.20 L515.03,220.23 L515.34,220.27 L515.66,220.30 L515.98,220.33 L516.31,220.35 L516.65,220.38 L517.00,220.40 M523.30,220.50 L523.62,220.48 L523.94,220.46 L524.25,220.44 L524.56,220.41 L524.87,220.38 L525.17,220.34 L525.46,220.31 L525.76,220.27 L526.06,220.23 L526.35,220.19 L526.65,220.15 L526.94,220.11 L527.24,220.07 L527.55,220.03 L527.85,220.00 L528.16,219.96 L528.48,219.93 L528.80,219.90 M535.00,219.50 L535.31,219.48 L535.62,219.45 L535.93,219.43 L536.24,219.40 L536.55,219.38 L536.86,219.35 L537.17,219.33 L537.48,219.30 L537.79,219.28 L538.10,219.25 L538.41,219.22 L538.72,219.20 L539.03,219.17 L539.34,219.15 L539.65,219.12 L539.96,219.10 L540.27,219.07 L540.58,219.05 L540.89,219.02 L541.20,219.00 M547.40,218.60 L547.71,218.57 L548.02,218.55 L548.33,218.52 L548.64,218.49 L548.95,218.46 L549.26,218.43 L549.57,218.40 L549.88,218.36 L550.20,218.33 L550.51,218.30 L550.82,218.27 L551.13,218.24 L551.44,218.20 L551.75,218.17 L552.06,218.14 L552.37,218.11 L552.68,218.08 L552.98,218.05 L553.29,218.03 L553.60,218.00 M559.03,217.64 L559.36,217.62 L559.70,217.60 L559.98,217.59 L560.26,217.57 L560.53,217.56 L560.81,217.54 L561.08,217.53 L561.35,217.51 L561.63,217.50 L561.90,217.49 L562.18,217.47 L562.46,217.46 L562.74,217.44 L563.03,217.43 L563.33,217.42 L563.63,217.41 L563.94,217.39 L564.26,217.38 L564.58,217.37 L564.92,217.36 M570.81,217.25 L571.11,217.25 L571.43,217.25 L571.74,217.24 L572.05,217.24 L572.37,217.24 L572.69,217.24 L573.01,217.23 L573.34,217.23 L573.66,217.23 L573.99,217.23 L574.31,217.23 L574.64,217.22 L574.97,217.22 L575.29,217.22 L575.62,217.22 L575.94,217.22 L576.27,217.22 L576.59,217.21 L576.91,217.21 M582.87,217.18 L583.19,217.18 L583.50,217.18 L583.82,217.18 L584.13,217.18 L584.44,217.18 L584.75,217.17 L585.07,217.17 L585.38,217.17 L585.69,217.17 L585.99,217.17 L586.30,217.17 L586.61,217.17 L586.91,217.17 L587.22,217.17 L587.52,217.17 L587.83,217.17 L588.13,217.17 L588.43,217.17 L588.73,217.17 L589.04,217.17 L589.33,217.17 L589.63,217.17 M595.47,217.35 L595.77,217.36 L596.07,217.38 L596.38,217.40 L596.68,217.41 L596.98,217.43 L597.28,217.45 L597.58,217.46 L597.89,217.48 L598.19,217.49 L598.49,217.51 L598.79,217.52 L599.10,217.54 L599.40,217.55 L599.71,217.56 L600.01,217.57 L600.32,217.58 L600.63,217.59 L600.94,217.59 L601.25,217.60 L601.57,217.60 L601.88,217.60 M607.38,217.43 L607.74,217.41 L608.10,217.39 L608.46,217.38 L608.81,217.36 L609.15,217.34 L609.49,217.32 L609.83,217.30 L610.15,217.28 L610.47,217.26 L610.78,217.25 L611.08,217.23 L611.37,217.21 L611.65,217.19 L611.92,217.18 L612.17,217.16 L612.42,217.15 L612.64,217.14 L612.86,217.13 L613.05,217.12 L613.24,217.11 "/>
<path d="M263.00,356.60 C264.53,350.88 269.13,333.73 272.20,322.30 C275.27,310.87 279.03,295.55 281.40,288.00 C283.77,280.45 284.73,280.42 286.40,277.00 C288.07,273.58 289.75,270.78 291.40,267.50 C293.05,264.22 294.77,260.47 296.30,257.30 C297.83,254.13 299.05,251.47 300.60,248.50 C302.15,245.53 303.65,243.08 305.60,239.50 C307.55,235.92 309.92,231.42 312.30,227.00 C314.68,222.58 317.82,216.67 319.90,213.00 C321.98,209.33 322.70,208.63 324.80,205.00 C326.90,201.37 330.20,195.50 332.50,191.20 C334.80,186.90 336.58,182.87 338.60,179.20 C340.62,175.53 342.28,173.02 344.60,169.20 C346.92,165.38 350.17,160.23 352.50,156.30 C354.83,152.37 356.10,149.73 358.60,145.60 C361.10,141.47 364.57,135.92 367.50,131.50 C370.43,127.08 373.22,123.13 376.20,119.10 C379.18,115.07 382.77,110.47 385.40,107.30 C388.03,104.13 389.57,102.53 392.00,100.10 C394.43,97.67 397.37,94.95 400.00,92.70 C402.63,90.45 405.18,88.43 407.80,86.60 C410.42,84.77 412.83,83.23 415.70,81.70 C418.57,80.17 422.18,78.57 425.00,77.40 C427.82,76.23 430.57,75.07 432.60,74.70 C434.63,74.33 435.93,74.80 437.20,75.20 C438.47,75.60 439.32,76.40 440.20,77.10 C441.08,77.80 441.93,78.25 442.50,79.40 C443.07,80.55 443.13,81.57 443.60,84.00 C444.07,86.43 444.73,90.67 445.30,94.00 C445.87,97.33 446.42,100.67 447.00,104.00 C447.58,107.33 448.22,110.67 448.80,114.00 C449.38,117.33 449.92,120.67 450.50,124.00 C451.08,127.33 451.65,130.50 452.30,134.00 C452.95,137.50 453.58,141.43 454.40,145.00 C455.22,148.57 456.10,152.07 457.20,155.40 C458.30,158.73 459.57,161.98 461.00,165.00 C462.43,168.02 463.90,170.33 465.80,173.50 C467.70,176.67 470.20,180.75 472.40,184.00 C474.60,187.25 476.82,190.33 479.00,193.00 C481.18,195.67 483.43,197.90 485.50,200.00 C487.57,202.10 489.15,203.65 491.40,205.60 C493.65,207.55 496.47,209.90 499.00,211.70 C501.53,213.50 504.23,215.07 506.60,216.40 C508.97,217.73 510.97,218.67 513.20,219.70 C515.43,220.73 516.93,221.42 520.00,222.60 C523.07,223.78 528.30,225.80 531.60,226.80 C534.90,227.80 537.28,228.02 539.80,228.60 C542.32,229.18 544.17,229.57 546.70,230.30 C549.23,231.03 552.15,232.32 555.00,233.00 C557.85,233.68 560.95,234.05 563.80,234.40 C566.65,234.75 569.35,234.87 572.10,235.10 C574.85,235.33 577.32,235.62 580.30,235.80 C583.28,235.98 587.22,236.10 590.00,236.20 C592.78,236.30 594.10,236.27 597.00,236.40 C599.90,236.53 604.42,236.72 607.40,237.00 C610.38,237.28 612.28,237.60 614.90,238.10 C617.52,238.60 621.73,239.68 623.10,240.00"/>
</g>
<rect x="263" y="5.75" width="414.8" height="350.85" fill="none" stroke="#000" stroke-width="2"/>
<g font-weight="bold" font-size="15" fill="#000"><text transform="translate(251.2,361.70) scale(0.915,1)" text-anchor="end">0</text><text transform="translate(251.2,311.57) scale(0.915,1)" text-anchor="end">500</text><text transform="translate(251.2,261.44) scale(0.915,1)" text-anchor="end">1000</text><text transform="translate(251.2,211.31) scale(0.915,1)" text-anchor="end">1500</text><text transform="translate(251.2,161.18) scale(0.915,1)" text-anchor="end">2000</text><text transform="translate(251.2,111.05) scale(0.915,1)" text-anchor="end">2500</text><text transform="translate(251.2,60.92) scale(0.915,1)" text-anchor="end">3000</text><text transform="translate(251.2,9.99) scale(0.915,1)" text-anchor="end">3500</text><text transform="translate(263.00,378.7) scale(0.915,1)" text-anchor="middle">0</text><text transform="translate(332.14,378.7) scale(0.915,1)" text-anchor="middle">2</text><text transform="translate(401.28,378.7) scale(0.915,1)" text-anchor="middle">4</text><text transform="translate(470.42,378.7) scale(0.915,1)" text-anchor="middle">6</text><text transform="translate(539.56,378.7) scale(0.915,1)" text-anchor="middle">8</text><text transform="translate(608.70,378.7) scale(0.915,1)" text-anchor="middle">10</text><text transform="translate(677.84,378.7) scale(0.915,1)" text-anchor="middle">12</text></g>
<text x="459.2" y="417.2" text-anchor="middle" font-weight="bold" font-size="16.3">Axial Displacement (mm)</text>
<text transform="translate(201.1,159.9) rotate(-90)" text-anchor="middle" font-weight="bold" font-size="16.6" letter-spacing="0.35">Column Load (KN)</text>
<g fill="none" stroke="#000" stroke-width="2">
<line x1="0" y1="138.2" x2="31" y2="138.2"/>
<line x1="0" y1="165.8" x2="31" y2="165.8" stroke-dasharray="6.3 5.7"/>
<line x1="0.2" y1="193.2" x2="29" y2="193.2" stroke-width="1.7" stroke-dasharray="1.7 1.6"/>
<line x1="0" y1="220.7" x2="31" y2="220.7" stroke-dasharray="13 6"/>
</g>
<g font-size="14.5" letter-spacing="-0.36" fill="#000">
<text x="32.4" y="142.3">RC Column</text>
<text x="32.4" y="169.6">RC Column with KFRP</text>
<text x="32.4" y="197.2">RC Column with GFRP</text>
<text x="32.4" y="225">RC Column with CFRP</text>
</g>
</svg>
</body></html>
